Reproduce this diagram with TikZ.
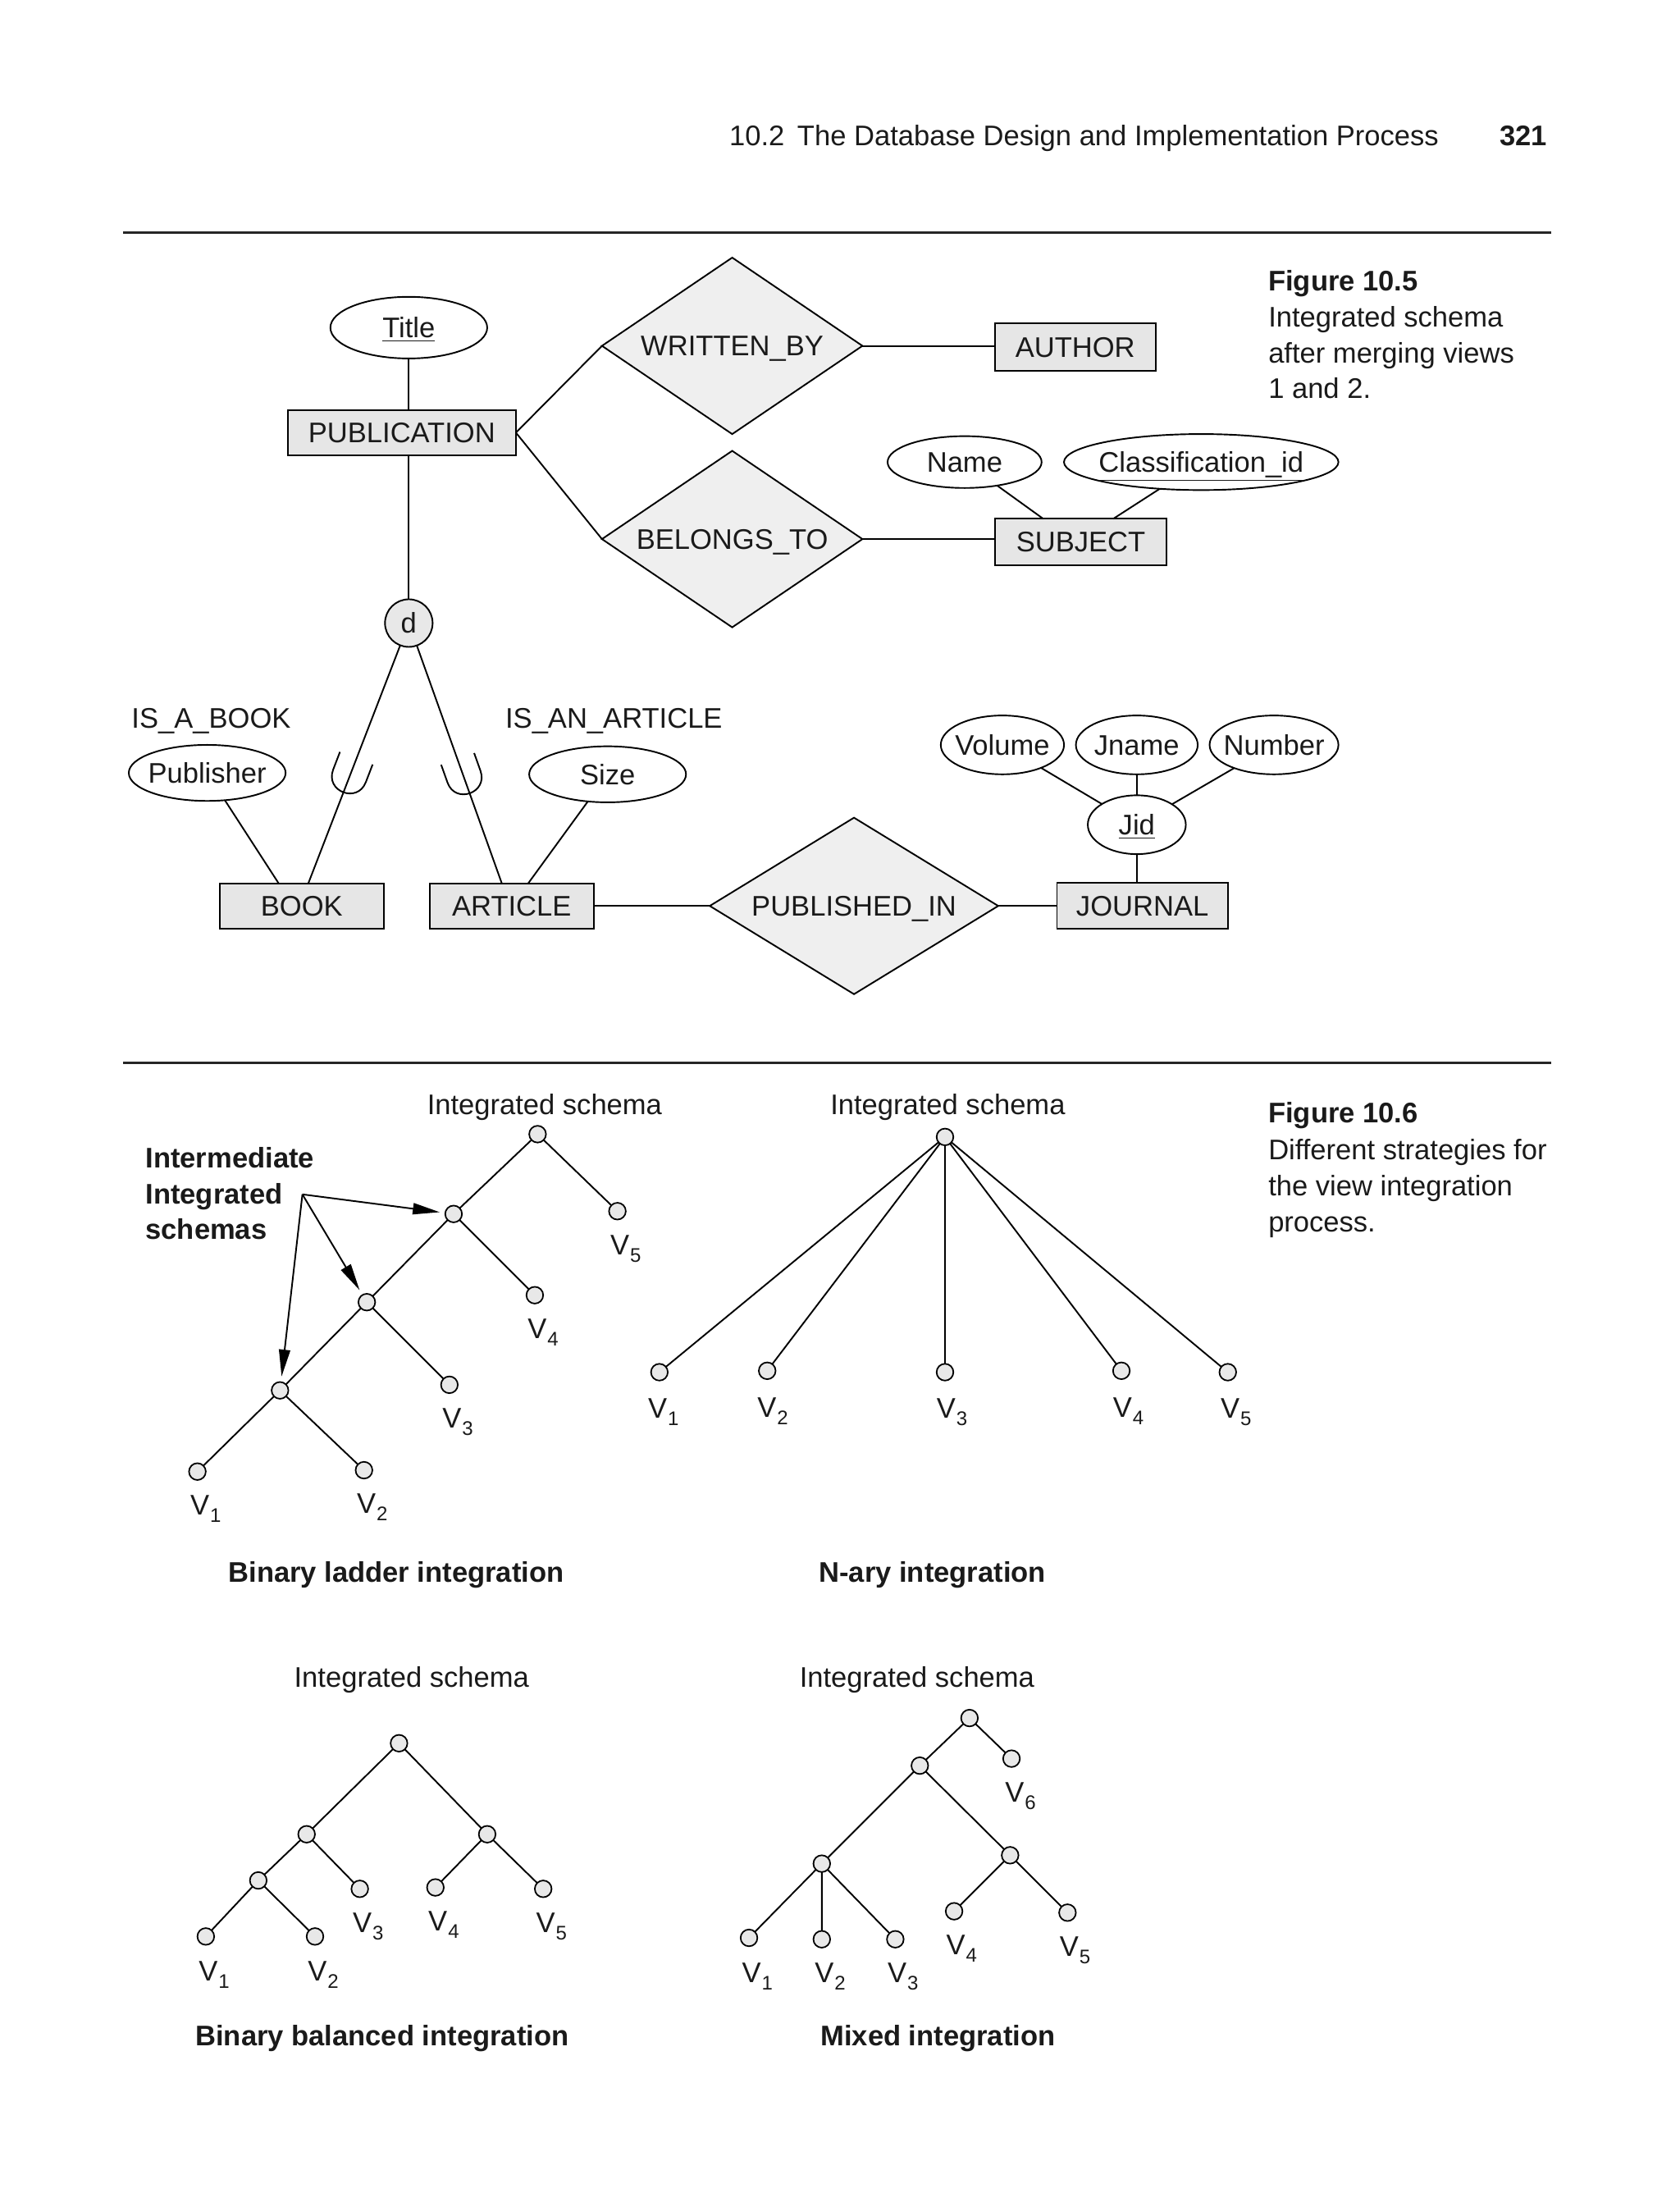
\documentclass[tikz,border=0pt]{standalone}
\usepackage{fontspec}
\setmainfont{Liberation Sans}
\usetikzlibrary{shapes.geometric,arrows.meta,calc}
\definecolor{boxfill}{HTML}{E6E6E6}
\definecolor{dmdfill}{HTML}{EFEFEF}
\definecolor{circfill}{HTML}{E8E8E8}
\definecolor{ink}{HTML}{1A1A1A}
\newcommand{\vsub}[1]{V\kern0.4pt\raisebox{-3.8pt}{\fontsize{10}{12}\selectfont #1}}
\begin{document}
\begin{tikzpicture}[x=0.025cm,y=-0.025cm,
  font=\fontsize{14.4}{17}\selectfont,
  every node/.style={inner sep=0pt, outer sep=0pt, text=ink},
  ertext/.style={text height=10.3pt, text depth=0pt},
  ent/.style={draw, rectangle, fill=boxfill, line width=0.8pt, ertext},
  attr/.style={draw, ellipse, fill=white, line width=0.8pt, ertext, inner xsep=-0.15cm},
  rel/.style={draw, diamond, fill=dmdfill, line width=0.8pt, ertext},
  erline/.style={line width=0.8pt},
  tn/.style={draw, circle, fill=circfill, minimum size=0.3cm, line width=0.75pt},
  tl/.style={line width=0.8pt},
  vlab/.style={anchor=north west},
  txt/.style={anchor=base west},
  bold/.style={font=\fontsize{14.4}{17}\selectfont\bfseries},
  arr/.style={line width=0.8pt, -{Triangle[length=0.48cm,width=0.2cm]}, shorten >=0.1cm},
  rule/.style={line width=1pt, draw=black!85}]
\useasboundingbox (0,0) rectangle (1200,1572.66);

% header
\node[txt] (hdr) at (521,104) {10.2\hspace{0.45em}The Database Design and Implementation Process};
\node[anchor=base east, bold] (pg) at (1105,104) {321};
\draw[rule] (88,166) -- (1108,166);
\draw[rule] (88,759) -- (1108,759);

% Figure 10.5 caption
\node[txt, bold] (c1a) at (906,207.5) {Figure 10.5};
\node[txt] (c1b) at (906,233.2) {Integrated schema};
\node[txt] (c1c) at (906,259.2) {after merging views};
\node[txt] (c1d) at (906,284.7) {1 and 2.};

% ER diagram
\node[attr, minimum width=2.8cm, minimum height=1.1cm] (title) at (292,234) {\underline{Title}};
\node[ent, minimum width=4.075cm, minimum height=0.8cm] (pub) at (287,309) {PUBLICATION};
\node[rel, aspect=1.5, minimum width=4.65cm, minimum height=3.15cm] (wb) at (523,247) {WRITTEN\_BY};
\node[rel, aspect=1.5, minimum width=4.65cm, minimum height=3.15cm] (bt) at (523,385) {BELONGS\_TO};
\node[ent, minimum width=2.875cm, minimum height=0.85cm] (author) at (768,248) {AUTHOR};
\node[attr, minimum width=2.75cm, minimum height=0.925cm] (name) at (689,330) {Name};
\node[attr, minimum width=4.9cm, minimum height=1.0cm] (cls) at (858,330) {\underline{Classification\_id}};
\node[ent, minimum width=3.05cm, minimum height=0.825cm] (subj) at (772,387) {SUBJECT};
\node[draw, circle, fill=circfill, line width=0.8pt, minimum size=0.85cm, ertext] (d) at (292,445) {d};
\node[txt] (isa) at (94,520) {IS\_A\_BOOK};
\node[txt] (isan) at (361,520) {IS\_AN\_ARTICLE};
\node[attr, minimum width=2.8cm, minimum height=1.0cm] (publ) at (148,552) {Publisher};
\node[attr, minimum width=2.8cm, minimum height=1.0cm] (size) at (434,553) {Size};
\node[ent, minimum width=2.925cm, minimum height=0.8cm] (book) at (215.5,647) {BOOK};
\node[ent, minimum width=2.925cm, minimum height=0.8cm] (art) at (365.5,647) {ARTICLE};
\node[rel, aspect=1.63, minimum width=5.15cm, minimum height=3.15cm] (pi) at (610,647) {PUBLISHED\_IN};
\node[ent, minimum width=3.05cm, minimum height=0.825cm] (jour) at (816,647) {JOURNAL};
\node[attr, minimum width=1.75cm, minimum height=1.05cm] (jid) at (812,589) {\underline{Jid}};
\node[attr, minimum width=2.2cm, minimum height=1.05cm] (vol) at (716,532) {Volume};
\node[attr, minimum width=2.175cm, minimum height=1.05cm] (jname) at (812,532) {Jname};
\node[attr, minimum width=2.3cm, minimum height=1.05cm] (num) at (910,532) {Number};

\draw[erline] (title.south) -- (title.south |- pub.north);
\draw[erline] (d.north |- pub.south) -- (d.north);
\draw[erline] (pub.east) -- (wb.west);
\draw[erline] (pub.east) -- (bt.west);
\draw[erline] (wb.east) -- (wb.east -| author.west);
\draw[erline] (bt.east) -- (bt.east -| subj.west);
\draw[erline] (name) -- ($(subj.north west)!0.28!(subj.north east)$);
\draw[erline] (cls) -- ($(subj.north west)!0.69!(subj.north east)$);
\draw[erline] (d) -- ($(book.north west)!0.54!(book.north east)$);
\draw[erline] (d) -- ($(art.north west)!0.44!(art.north east)$);
\draw[erline] (publ) -- ($(book.north west)!0.36!(book.north east)$);
\draw[erline] (size) -- ($(art.north west)!0.60!(art.north east)$);
\draw[erline] (art.east) -- (pi.west);
\draw[erline] (pi.east) -- (pi.east -| jour.west);
\draw[erline] (jid.south) -- (jid.south |- jour.north);
\draw[erline] (jname.south) -- (jid.north);
\draw[erline] (vol) -- (jid);
\draw[erline] (num) -- (jid);
% subset symbols
\begin{scope}[shift={(254.5,541.5)}, rotate=-21.06]
  \draw[erline] (-12.5,0) -- (-12.5,13.5) .. controls (-12.5,30.2) and (12.5,30.2) .. (12.5,13.5) -- (12.5,0);
\end{scope}
\begin{scope}[shift={(326.9,542)}, rotate=19.6]
  \draw[erline] (-12.5,0) -- (-12.5,13.5) .. controls (-12.5,30.2) and (12.5,30.2) .. (12.5,13.5) -- (12.5,0);
\end{scope}

% Figure 10.6 caption
\node[txt, bold] (c2a) at (906,802) {Figure 10.6};
\node[txt] (c2b) at (906,828) {Different strategies for};
\node[txt] (c2c) at (906,854) {the view integration};
\node[txt] (c2d) at (906,879.5) {process.};

% Binary ladder
\node[anchor=base] (lat) at (389,796) {Integrated schema};
\node[txt, bold] (ima) at (104,834) {Intermediate};
\node[txt, bold] (imb) at (104,859.7) {Integrated};
\node[txt, bold] (imc) at (104,885.3) {schemas};
\coordinate (src) at (216,853);
\node[tn] (la1) at (384,810) {};
\node[tn] (la2) at (324,867) {};
\node[tn] (la3) at (262,930) {};
\node[tn] (la4) at (200,993) {};
\node[tn] (lv5) at (441,865) {};
\node[tn] (lv4) at (382,925) {};
\node[tn] (lv3) at (321,989) {};
\node[tn] (lv1) at (141,1051) {};
\node[tn] (lv2) at (260,1050) {};
\draw[tl] (la1) -- (la2) (la1) -- (lv5) (la2) -- (la3) (la2) -- (lv4)
  (la3) -- (la4) (la3) -- (lv3) (la4) -- (lv1) (la4) -- (lv2);
\draw[arr] (src) -- (la2);
\draw[arr] (src) -- (la3);
\draw[arr] (src) -- (la4);
\node[vlab] (llv5) at (436,882) {\vsub{5}};
\node[vlab] (llv4) at (377,942) {\vsub{4}};
\node[vlab] (llv3) at (316,1006) {\vsub{3}};
\node[vlab] (llv1) at (136,1068) {\vsub{1}};
\node[vlab] (llv2) at (255,1067) {\vsub{2}};
\node[anchor=base, bold] (lcap) at (283,1130) {Binary ladder integration};

% N-ary
\node[anchor=base] (nat) at (677,796) {Integrated schema};
\node[tn] (na) at (675,812) {};
\node[tn] (nv1) at (471,980) {};
\node[tn] (nv2) at (548,979) {};
\node[tn] (nv3) at (675,980) {};
\node[tn] (nv4) at (801,979) {};
\node[tn] (nv5) at (877,980) {};
\draw[tl] (na) -- (nv1) (na) -- (nv2) (na) -- (nv3) (na) -- (nv4) (na) -- (nv5);
\node[vlab] (nlv1) at (463,999) {\vsub{1}};
\node[vlab] (nlv2) at (541,998) {\vsub{2}};
\node[vlab] (nlv3) at (669,999) {\vsub{3}};
\node[vlab] (nlv4) at (795,998) {\vsub{4}};
\node[vlab] (nlv5) at (872,999) {\vsub{5}};
\node[anchor=base, bold] (ncap) at (666,1130) {N-ary integration};

% Binary balanced
\node[anchor=base] (bat) at (294,1205) {Integrated schema};
\node[tn] (ba) at (285,1245) {};
\node[tn] (bl) at (219,1310) {};
\node[tn] (br) at (348,1310) {};
\node[tn] (bll) at (184.5,1343) {};
\node[tn] (bv3) at (257,1349) {};
\node[tn] (bv4) at (311,1348) {};
\node[tn] (bv5) at (388,1349) {};
\node[tn] (bv1) at (147,1383) {};
\node[tn] (bv2) at (225,1383) {};
\draw[tl] (ba) -- (bl) (ba) -- (br) (bl) -- (bll) (bl) -- (bv3) (bll) -- (bv1) (bll) -- (bv2)
  (br) -- (bv4) (br) -- (bv5);
\node[vlab] (blv3) at (252,1366) {\vsub{3}};
\node[vlab] (blv4) at (306,1365) {\vsub{4}};
\node[vlab] (blv5) at (383,1366) {\vsub{5}};
\node[vlab] (blv1) at (142,1401) {\vsub{1}};
\node[vlab] (blv2) at (220,1401) {\vsub{2}};
\node[anchor=base, bold] (bcap) at (273,1461) {Binary balanced integration};

% Mixed
\node[anchor=base] (mat) at (655,1205) {Integrated schema};
\node[tn] (ma) at (692.5,1227) {};
\node[tn] (mv6) at (722.5,1256) {};
\node[tn] (mb) at (657,1261) {};
\node[tn] (mr) at (721.5,1325) {};
\node[tn] (mc) at (587,1331) {};
\node[tn] (mv1) at (535,1384) {};
\node[tn] (mv2) at (587,1385) {};
\node[tn] (mv3) at (639.5,1385) {};
\node[tn] (mv4) at (681.5,1365) {};
\node[tn] (mv5) at (762.5,1366) {};
\draw[tl] (ma) -- (mb) (ma) -- (mv6) (mb) -- (mc) (mb) -- (mr) (mc) -- (mv1) (mc) -- (mv2)
  (mc) -- (mv3) (mr) -- (mv4) (mr) -- (mv5);
\node[vlab] (mlv6) at (718,1273) {\vsub{6}};
\node[vlab] (mlv1) at (530,1402) {\vsub{1}};
\node[vlab] (mlv2) at (582,1402) {\vsub{2}};
\node[vlab] (mlv3) at (634,1402) {\vsub{3}};
\node[vlab] (mlv4) at (676,1382) {\vsub{4}};
\node[vlab] (mlv5) at (757,1383) {\vsub{5}};
\node[anchor=base, bold] (mcap) at (670,1461) {Mixed integration};
\end{tikzpicture}
\end{document}
